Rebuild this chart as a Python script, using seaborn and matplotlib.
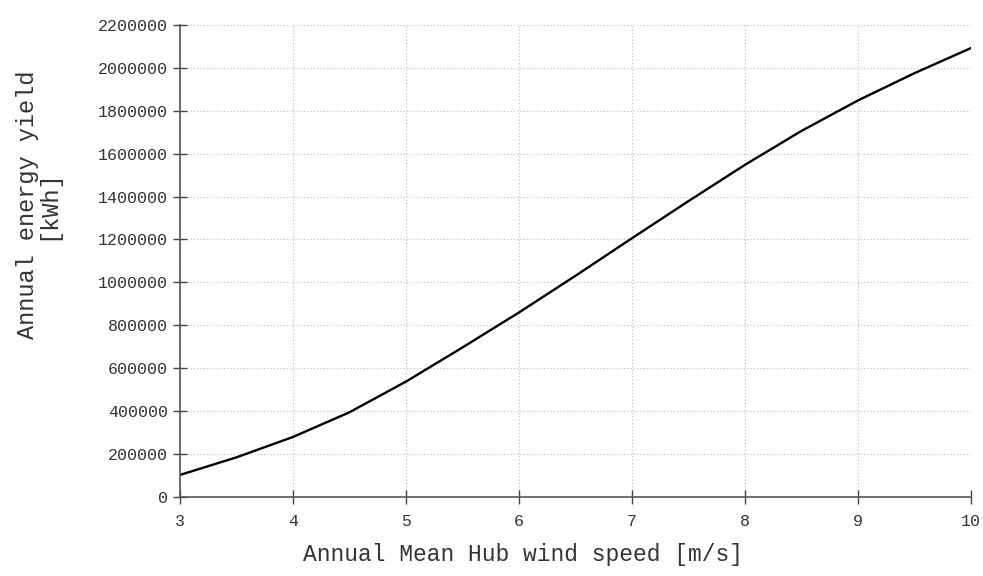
import matplotlib
matplotlib.use("Agg")
import matplotlib.pyplot as plt
import seaborn as sns
import pandas as pd
from matplotlib.ticker import FuncFormatter

wind_speed = [3.0, 3.5, 4.0, 4.5, 5.0, 5.5, 6.0, 6.5, 7.0, 7.5, 8.0, 8.5, 9.0, 9.5, 10.0]
energy_yield = [103000, 185000, 280000, 395000, 538000, 697000, 860000, 1031000,
                1206000, 1379000, 1548000, 1706000, 1848000, 1975000, 2092000]
x_ticks = [3, 4, 5, 6, 7, 8, 9, 10]
y_ticks = list(range(0, 2200001, 200000))

sns.set_theme(style="white")
plt.rcParams['font.family'] = ['Liberation Mono', 'DejaVu Sans Mono']

df = pd.DataFrame({"speed": wind_speed, "yield": energy_yield})

fig = plt.figure(figsize=(9.83, 5.76), dpi=100)
ax = fig.add_axes([0.183, 0.137, 0.805, 0.82])
sns.lineplot(data=df, x="speed", y="yield", color="black", linewidth=1.7, ax=ax)

ax.set_xlim(3, 10)
ax.set_ylim(0, 2200000)
ax.set_xticks(x_ticks)
ax.set_yticks(y_ticks)
ax.yaxis.set_major_formatter(FuncFormatter(lambda v, p: f"{int(v)}"))
ax.grid(True, linestyle=(0, (1, 2)), color="#bbbbbb", linewidth=0.8)
for s in ["top", "right"]:
    ax.spines[s].set_visible(False)
for s in ["left", "bottom"]:
    ax.spines[s].set_color("#555555")
    ax.spines[s].set_linewidth(1.2)
ax.tick_params(axis="both", direction="inout", length=10, width=1, color="#444444",
               labelsize=12, labelcolor="#333333", left=True, bottom=True)
ax.tick_params(axis="x", pad=7)
ax.set_xlabel("Annual Mean Hub wind speed [m/s]", fontsize=16.5, color="#333333")
ax.xaxis.set_label_coords(0.434, -0.098)
ax.set_ylabel("Annual energy yield\n[kWh]", fontsize=17, color="#333333",
              linespacing=0.85)
ax.yaxis.set_label_coords(-0.152, 0.619)

fig.savefig("out.png", dpi=100, facecolor="white")
